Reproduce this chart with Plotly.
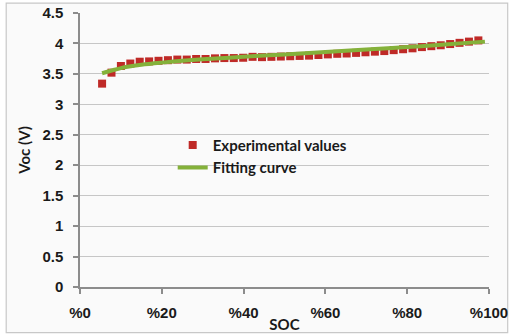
import plotly.graph_objects as go

# Experimental data (SOC in %, Voc in V)
soc_exp = [5.4, 7.7, 10.0, 12.3, 14.6, 16.9, 19.2, 21.5, 23.8, 26.1, 28.4, 30.7, 33.0, 35.3,
           37.6, 39.9, 42.2, 44.5, 46.8, 49.1, 51.4, 53.7, 56.0, 58.3, 60.6, 62.9, 65.2, 67.5,
           69.8, 72.1, 74.4, 76.7, 79.0, 81.3, 83.6, 85.9, 88.2, 90.5, 92.8, 95.1, 97.4]
voc_exp = [3.34, 3.52, 3.63, 3.67, 3.70, 3.705, 3.715, 3.725, 3.735, 3.735, 3.745, 3.745, 3.755,
           3.76, 3.76, 3.765, 3.78, 3.775, 3.78, 3.785, 3.79, 3.795, 3.80, 3.81, 3.82, 3.83, 3.835,
           3.845, 3.855, 3.865, 3.875, 3.89, 3.905, 3.92, 3.94, 3.955, 3.97, 3.99, 4.01, 4.03, 4.05]

# Fitting curve
soc_fit = [5.4, 8, 10, 12, 15, 20, 25, 30, 40, 50, 60, 70, 80, 90, 99]
voc_fit = [3.51, 3.56, 3.595, 3.62, 3.65, 3.685, 3.715, 3.74, 3.78, 3.82, 3.86, 3.90, 3.94, 3.985, 4.03]

x_tickvals = [0, 20, 40, 60, 80, 100]
x_ticktext = ["%0", "%20", "%40", "%60", "%80", "%100"]
y_tickvals = [0, 0.5, 1, 1.5, 2, 2.5, 3, 3.5, 4, 4.5]
y_ticktext = ["0", "0.5", "1", "1.5", "2", "2.5", "3", "3.5", "4", "4.5"]

fig = go.Figure()
fig.add_trace(go.Scatter(
    x=soc_exp, y=voc_exp, mode="markers", name="Experimental values",
    marker=dict(symbol="square", size=8, color="#bf2a27", line=dict(width=0)),
))
fig.add_trace(go.Scatter(
    x=soc_fit, y=voc_fit, mode="lines", name="Fitting curve",
    line=dict(color="#84b13a", width=4, shape="spline"),
))

left, right, top, bottom = 80.3, 489.3, 13.3, 287.0
W, H = 509, 334
pw, ph = right - left, bottom - top

def px2paper_x(p):
    return (p - left) / pw

def px2paper_y(p):
    return (bottom - p) / ph

fig.add_shape(type="rect", xref="paper", yref="paper", layer="below",
              x0=px2paper_x(6.5), x1=px2paper_x(508), y0=px2paper_y(332.5), y1=px2paper_y(3.5),
              line=dict(color="#c8c8c8", width=1.2), fillcolor="#fafafa")

tick_font = dict(family="Liberation Sans, Arial", size=15, color="#1a1a1a", weight="bold")
title_font = dict(family="Lato, Open Sans", size=15, color="#1a1a1a")

fig.update_layout(
    width=W, height=H,
    margin=dict(l=left, r=W - right, t=top, b=H - bottom, autoexpand=False),
    paper_bgcolor="white",
    plot_bgcolor="rgba(0,0,0,0)",
    showlegend=True,
    legend=dict(x=px2paper_x(173), y=px2paper_y(129), xanchor="left", yanchor="top",
                bgcolor="rgba(0,0,0,0)",
                font=dict(family="Lato, Open Sans", size=15, color="#1a1a1a", weight="bold"),
                tracegroupgap=0, itemwidth=30),
    xaxis=dict(range=[0, 100], tickvals=x_tickvals, ticktext=x_ticktext, automargin=False,
               showgrid=False, zeroline=False, showline=True, linecolor="#8c8c8c", linewidth=1.5,
               ticks="outside", ticklen=5, tickcolor="#8c8c8c", tickwidth=1.5,
               tickfont=tick_font, ticklabelstandoff=6,
               title=dict(text="<b>SOC</b>", font=title_font, standoff=0)),
    yaxis=dict(range=[0, 4.5], tickvals=y_tickvals, ticktext=y_ticktext, automargin=False,
               showgrid=True, gridcolor="#c6c6c6", gridwidth=1.2, zeroline=False,
               showline=True, linecolor="#8c8c8c", linewidth=1.5,
               ticks="outside", ticklen=5, tickcolor="#8c8c8c", tickwidth=1.5,
               tickfont=tick_font, ticklabelstandoff=7,
               title=dict(text="<b>Voc (V)</b>", font=title_font, standoff=8)),
)

fig.write_html("out.html", config={"displayModeBar": False},
               post_script="document.body.style.margin='0px';document.body.style.overflow='hidden';")
